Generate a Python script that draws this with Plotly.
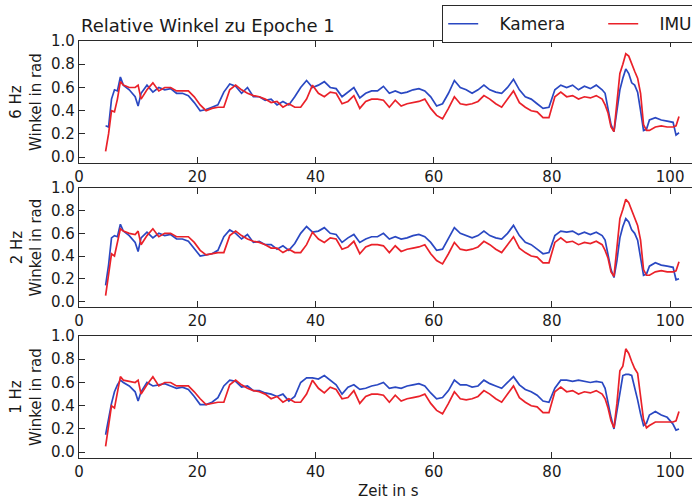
import plotly.graph_objects as go

# ---------------- data ----------------
zeit = [4.5, 5.0, 5.5, 6.0, 6.5, 7.0, 7.5,
        8.5, 9.5, 10.0, 10.5,
        11.5, 12.5, 13.5, 14.5, 15.5, 16.5, 17.5, 18.5, 19.5, 20.5,
        21.5, 22.5, 23.5, 24.5, 25.5, 26.5, 27.5, 28.5, 29.5, 30.5,
        31.5, 32.5, 33.5, 34.5, 35.5, 36.5, 37.5, 38.5, 39.5, 40.5,
        41.5, 42.5, 43.5, 44.5, 45.5, 46.5, 47.5, 48.5, 49.5, 50.5,
        51.5, 52.5, 53.5, 54.5, 55.5, 56.5, 57.5, 58.5, 59.5, 60.5,
        61.5, 62.5, 63.5, 64.5, 65.5, 66.5, 67.5, 68.5, 69.5, 70.5,
        71.5, 72.5, 73.5, 74.5, 75.5, 76.5, 77.5, 78.5, 79.5, 80.5,
        81.5, 82.5, 83.5, 84.5, 85.5, 86.5, 87.5, 88.5,
        89.0, 89.5, 90.0, 90.5, 91.0, 91.5, 92.0, 92.5, 93.0, 93.5, 94.0, 94.5, 95.0, 95.5, 96.0, 96.5,
        97.5, 98.5, 99.5, 100.5, 101.0, 101.5]

kamera_6hz = [0.27, 0.26, 0.50, 0.58, 0.57, 0.69, 0.62,
              0.58, 0.52, 0.44, 0.55,
              0.62, 0.56, 0.60, 0.58, 0.59, 0.55, 0.55, 0.53, 0.47, 0.40,
              0.41, 0.43, 0.45, 0.56, 0.63, 0.61, 0.55, 0.60, 0.52, 0.52,
              0.49, 0.50, 0.45, 0.48, 0.45, 0.52, 0.60, 0.66, 0.60, 0.62,
              0.65, 0.60, 0.59, 0.52, 0.56, 0.60, 0.51, 0.55, 0.57, 0.57,
              0.61, 0.55, 0.57, 0.55, 0.56, 0.58, 0.59, 0.57, 0.52, 0.44,
              0.46, 0.55, 0.66, 0.60, 0.58, 0.55, 0.58, 0.62, 0.58, 0.56,
              0.55, 0.60, 0.67, 0.58, 0.52, 0.50, 0.46, 0.42, 0.43, 0.58,
              0.62, 0.60, 0.62, 0.58, 0.61, 0.59, 0.62, 0.58,
              0.55, 0.42, 0.28, 0.22, 0.38, 0.58, 0.68, 0.76, 0.72, 0.64, 0.62, 0.56, 0.40, 0.23, 0.24, 0.32,
              0.34, 0.32, 0.31, 0.30, 0.19, 0.21]

imu_6hz = [0.05, 0.20, 0.40, 0.39, 0.50, 0.65, 0.62,
           0.60, 0.60, 0.62, 0.50,
           0.58, 0.64, 0.57, 0.60, 0.60, 0.57, 0.57, 0.57, 0.52, 0.45,
           0.40, 0.42, 0.43, 0.43, 0.58, 0.62, 0.58, 0.55, 0.53, 0.52,
           0.50, 0.47, 0.48, 0.43, 0.46, 0.43, 0.43, 0.50, 0.62, 0.55,
           0.52, 0.56, 0.55, 0.46, 0.48, 0.53, 0.42, 0.48, 0.50, 0.50,
           0.49, 0.43, 0.49, 0.44, 0.46, 0.47, 0.48, 0.50, 0.42, 0.36,
           0.33, 0.42, 0.52, 0.46, 0.45, 0.46, 0.48, 0.53, 0.50, 0.46,
           0.43, 0.50, 0.57, 0.47, 0.43, 0.40, 0.39, 0.34, 0.34, 0.52,
           0.56, 0.52, 0.53, 0.50, 0.52, 0.51, 0.53, 0.50,
           0.45, 0.38, 0.26, 0.22, 0.45, 0.72, 0.80, 0.89, 0.87, 0.80, 0.74, 0.68, 0.55, 0.28, 0.23, 0.23,
           0.26, 0.27, 0.26, 0.26, 0.27, 0.35]

kamera_2hz = [0.14, 0.32, 0.56, 0.58, 0.57, 0.68, 0.62,
              0.58, 0.52, 0.44, 0.56,
              0.61, 0.56, 0.60, 0.58, 0.59, 0.55, 0.55, 0.53, 0.47, 0.40,
              0.41, 0.42, 0.45, 0.57, 0.63, 0.60, 0.55, 0.59, 0.52, 0.53,
              0.50, 0.50, 0.46, 0.49, 0.45, 0.51, 0.60, 0.66, 0.61, 0.62,
              0.65, 0.60, 0.59, 0.52, 0.56, 0.59, 0.52, 0.55, 0.57, 0.57,
              0.60, 0.55, 0.57, 0.55, 0.56, 0.58, 0.59, 0.57, 0.52, 0.45,
              0.46, 0.55, 0.65, 0.60, 0.58, 0.56, 0.58, 0.62, 0.58, 0.56,
              0.55, 0.60, 0.67, 0.58, 0.52, 0.50, 0.46, 0.42, 0.43, 0.58,
              0.62, 0.61, 0.62, 0.59, 0.61, 0.59, 0.61, 0.58,
              0.54, 0.42, 0.28, 0.21, 0.36, 0.56, 0.66, 0.73, 0.70, 0.63, 0.60, 0.54, 0.40, 0.23, 0.24, 0.31,
              0.34, 0.32, 0.31, 0.30, 0.19, 0.20]

imu_2hz = [0.05, 0.22, 0.42, 0.40, 0.52, 0.64, 0.62,
           0.60, 0.59, 0.62, 0.50,
           0.58, 0.64, 0.57, 0.60, 0.60, 0.57, 0.57, 0.57, 0.52, 0.45,
           0.41, 0.42, 0.43, 0.43, 0.58, 0.62, 0.58, 0.55, 0.53, 0.52,
           0.50, 0.47, 0.47, 0.43, 0.46, 0.43, 0.43, 0.50, 0.61, 0.55,
           0.52, 0.56, 0.55, 0.46, 0.48, 0.53, 0.42, 0.48, 0.50, 0.50,
           0.49, 0.43, 0.49, 0.44, 0.46, 0.47, 0.48, 0.50, 0.42, 0.36,
           0.33, 0.42, 0.52, 0.46, 0.45, 0.46, 0.48, 0.53, 0.50, 0.46,
           0.43, 0.50, 0.57, 0.47, 0.43, 0.40, 0.39, 0.34, 0.34, 0.52,
           0.56, 0.52, 0.53, 0.50, 0.52, 0.51, 0.53, 0.50,
           0.45, 0.38, 0.26, 0.22, 0.46, 0.73, 0.81, 0.90, 0.87, 0.80, 0.74, 0.67, 0.54, 0.28, 0.23, 0.23,
           0.26, 0.27, 0.26, 0.26, 0.27, 0.35]

kamera_1hz = [0.15, 0.30, 0.42, 0.52, 0.58, 0.62, 0.60,
              0.57, 0.52, 0.44, 0.52,
              0.60, 0.57, 0.58, 0.59, 0.57, 0.55, 0.56, 0.54, 0.48, 0.41,
              0.41, 0.43, 0.47, 0.57, 0.62, 0.61, 0.56, 0.57, 0.53, 0.53,
              0.51, 0.50, 0.48, 0.50, 0.44, 0.48, 0.60, 0.64, 0.64, 0.63,
              0.66, 0.62, 0.58, 0.50, 0.56, 0.58, 0.54, 0.55, 0.57, 0.58,
              0.60, 0.55, 0.56, 0.55, 0.57, 0.58, 0.59, 0.57, 0.51, 0.46,
              0.47, 0.53, 0.62, 0.58, 0.58, 0.56, 0.57, 0.62, 0.59, 0.57,
              0.55, 0.60, 0.65, 0.58, 0.54, 0.52, 0.49, 0.44, 0.43, 0.55,
              0.62, 0.62, 0.61, 0.62, 0.61, 0.60, 0.61, 0.60,
              0.55, 0.42, 0.30, 0.20, 0.35, 0.52, 0.66, 0.67, 0.67, 0.66, 0.56, 0.45, 0.33, 0.23, 0.25, 0.32,
              0.35, 0.32, 0.30, 0.24, 0.19, 0.20]

imu_1hz = [0.05, 0.22, 0.40, 0.38, 0.52, 0.65, 0.62,
           0.61, 0.60, 0.62, 0.50,
           0.58, 0.65, 0.57, 0.60, 0.60, 0.57, 0.57, 0.57, 0.52, 0.46,
           0.41, 0.42, 0.43, 0.43, 0.58, 0.62, 0.58, 0.55, 0.53, 0.52,
           0.50, 0.46, 0.48, 0.43, 0.46, 0.43, 0.43, 0.50, 0.62, 0.55,
           0.51, 0.56, 0.54, 0.46, 0.47, 0.53, 0.42, 0.48, 0.50, 0.50,
           0.49, 0.43, 0.49, 0.44, 0.46, 0.47, 0.48, 0.50, 0.42, 0.36,
           0.33, 0.42, 0.52, 0.46, 0.45, 0.46, 0.48, 0.53, 0.50, 0.46,
           0.43, 0.50, 0.57, 0.47, 0.43, 0.40, 0.39, 0.34, 0.34, 0.52,
           0.56, 0.52, 0.53, 0.50, 0.52, 0.51, 0.53, 0.50,
           0.46, 0.38, 0.27, 0.21, 0.42, 0.70, 0.74, 0.89, 0.85, 0.78, 0.72, 0.68, 0.50, 0.28, 0.21, 0.23,
           0.26, 0.26, 0.26, 0.26, 0.27, 0.35]

series_names = ["Kamera", "IMU"]
panel_labels = ["6 Hz", "2 Hz", "1 Hz"]
x_ticks = [0, 20, 40, 60, 80, 100]
y_ticks = [0.0, 0.2, 0.4, 0.6, 0.8, 1.0]
y_ticklabels = ["0.0", "0.2", "0.4", "0.6", "0.8", "1.0"]

# ---------------- figure ----------------
W, H = 692, 504
LEFT, TOP, BOTTOM = 79, 41, 458
plot_h = BOTTOM - TOP
panel_px = [(41, 163), (188, 307), (336, 458)]

BLUE = "#2a48c2"
RED = "#ea2129"
FONT = "DejaVu Sans"
TXT = "#1a1a1a"
AX = "#2a2a2a"
PAD = "\u00a0\u00a0\u00a0"   # spacing between legend sample line and label

def py2paper(py):
    return (BOTTOM - py) / plot_h

series = [(kamera_6hz, imu_6hz), (kamera_2hz, imu_2hz), (kamera_1hz, imu_1hz)]

fig = go.Figure()
for i, (kam, imu) in enumerate(series):
    sfx = "" if i == 0 else str(i + 1)
    fig.add_trace(go.Scatter(x=zeit, y=kam, mode="lines", name=PAD + series_names[0],
                             line=dict(color=BLUE, width=1.7),
                             xaxis="x" + sfx, yaxis="y" + sfx, showlegend=(i == 0)))
    fig.add_trace(go.Scatter(x=zeit, y=imu, mode="lines", name=PAD + series_names[1],
                             line=dict(color=RED, width=1.7),
                             xaxis="x" + sfx, yaxis="y" + sfx, showlegend=(i == 0)))

layout = dict(
    width=W, height=H,
    margin=dict(l=LEFT, r=0, t=TOP, b=H - BOTTOM, autoexpand=False),
    paper_bgcolor="white", plot_bgcolor="white",
    font=dict(family=FONT, size=15, color=TXT),
    legend=dict(orientation="h", x=(442 - LEFT) / (W - LEFT), y=py2paper(5),
                xanchor="left", yanchor="top", bgcolor="white",
                bordercolor=AX, borderwidth=1.2, font=dict(size=17, color=TXT),
                entrywidth=115, traceorder="normal"),
)

annotations = []
for i, (top, bot) in enumerate(panel_px):
    sfx = "" if i == 0 else str(i + 1)
    layout["xaxis" + sfx] = dict(
        domain=[0, 1], range=[0, 103.7], anchor="y" + sfx,
        tickvals=x_ticks, ticks="inside", ticklen=6, tickwidth=1.2, tickcolor=AX,
        showline=True, linecolor=AX, linewidth=1.4, mirror="ticks",
        showgrid=False, zeroline=False, tickfont=dict(size=15, color=TXT),
    )
    layout["yaxis" + sfx] = dict(
        domain=[py2paper(bot), py2paper(top)], range=[-0.05, 1.0], anchor="x" + sfx,
        tickvals=y_ticks, ticktext=y_ticklabels, ticks="inside", ticklen=6,
        tickwidth=1.2, tickcolor=AX,
        showline=True, linecolor=AX, linewidth=1.4, mirror=False,
        showgrid=False, zeroline=False, tickfont=dict(size=15, color=TXT),
    )
    annotations.append(dict(
        text=panel_labels[i] + "<br>Winkel in rad", textangle=-90,
        xref="paper", yref="paper", x=(26 - LEFT) / (W - LEFT), y=py2paper((top + bot) / 2),
        xanchor="center", yanchor="middle", showarrow=False,
        font=dict(size=15, color=TXT, family=FONT),
    ))

annotations.append(dict(
    text="Relative Winkel zu Epoche 1", xref="paper", yref="paper",
    x=0, y=py2paper(38), xanchor="left", yanchor="bottom", showarrow=False,
    font=dict(size=18, color=TXT, family=FONT),
))
annotations.append(dict(
    text="Zeit in s", xref="paper", yref="paper",
    x=(388 - LEFT) / (W - LEFT), y=py2paper(502), xanchor="center", yanchor="bottom",
    showarrow=False, font=dict(size=15, color=TXT, family=FONT),
))
layout["annotations"] = annotations

fig.update_layout(**layout)
fig.write_html("out.html",
               config={"displayModeBar": False},
               post_script="document.body.style.margin='0';document.body.style.overflow='hidden';")
